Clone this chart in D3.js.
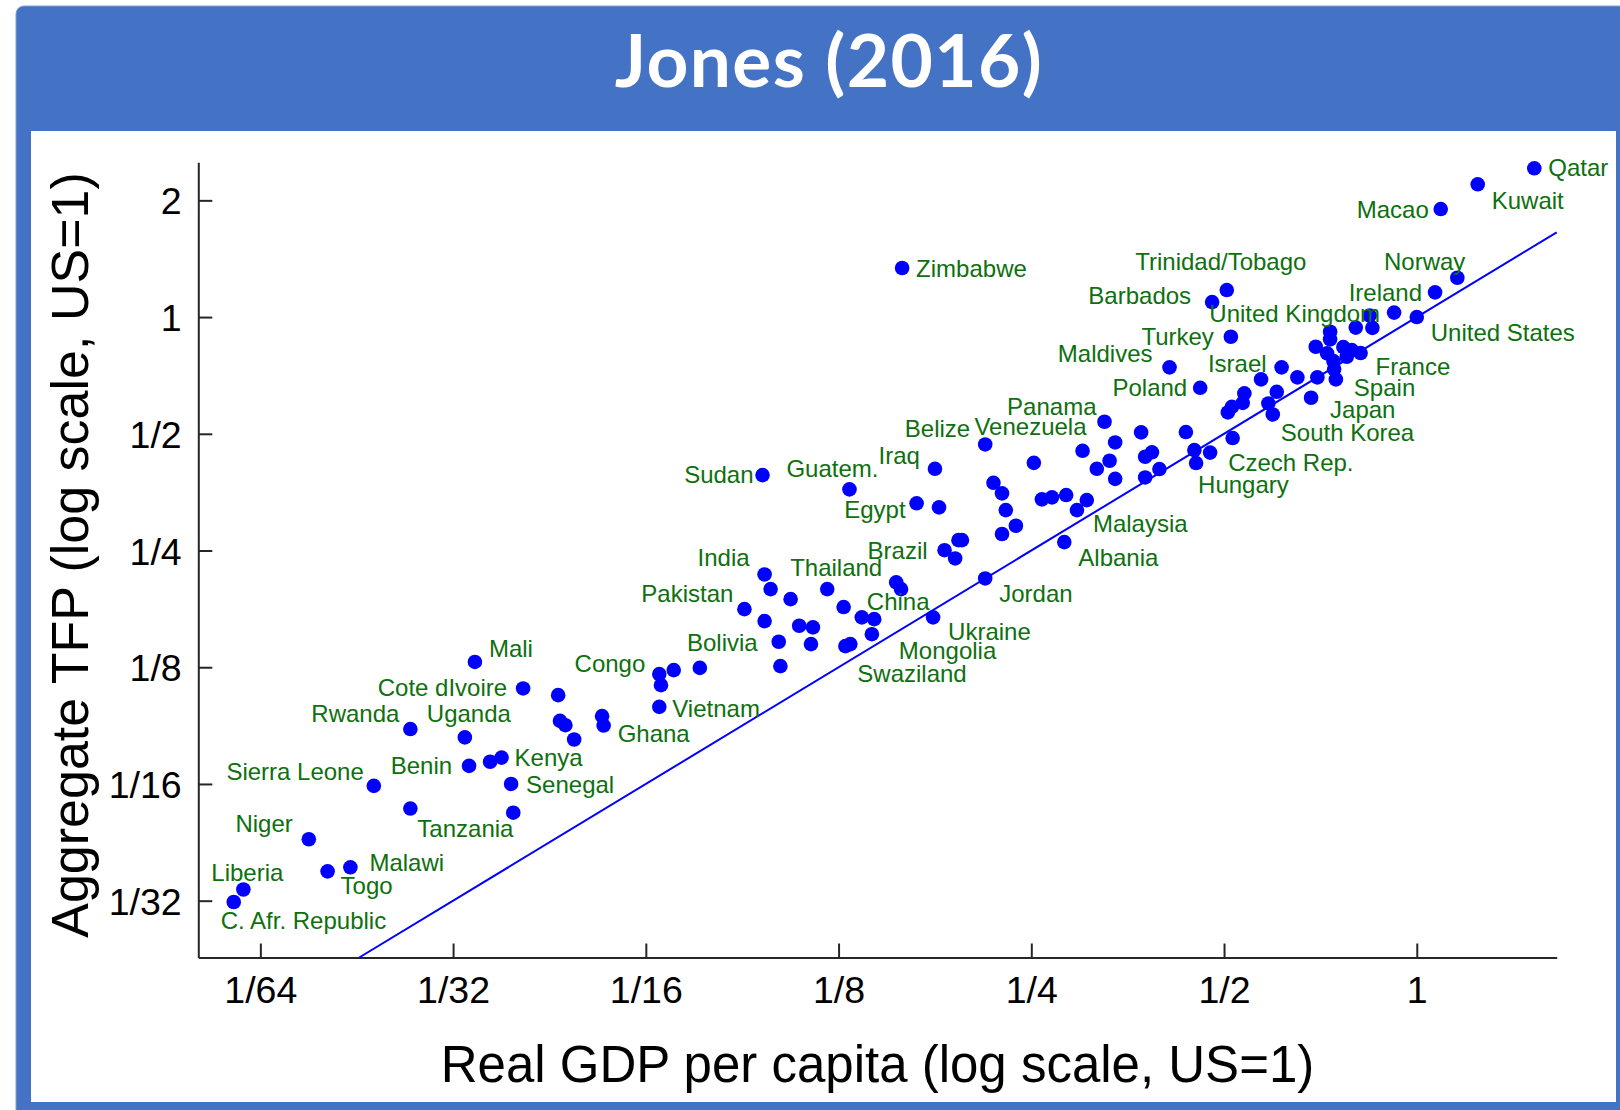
<!DOCTYPE html>
<html>
<head>
<meta charset="utf-8">
<script src="https://cdn.jsdelivr.net/npm/d3@7"></script>
<style>
  body { margin: 0; background: #fff; }
  svg { display: block; }
</style>
</head>
<body>
<svg id="chart" width="1620" height="1110"></svg>
<script>
// Aggregate TFP vs. real GDP per capita, both relative to the US (=1)
const countries = [
  "C. Afr. Republic", "Liberia", "Niger", "Togo", "Malawi", "Sierra Leone", "Rwanda", "Tanzania", "Uganda", "Benin",
  "Mali", "", "Kenya", "Senegal", "", "Cote dIvoire", "", "", "", "",
  "", "Ghana", "Congo", "", "Vietnam", "", "", "Pakistan", "Sudan", "India",
  "", "", "Bolivia", "", "", "", "", "", "", "",
  "", "Swaziland", "Guatem.", "China", "Mongolia", "", "Thailand", "", "Zimbabwe", "Egypt",
  "Ukraine", "Iraq", "", "Brazil", "", "", "", "Belize", "Jordan", "",
  "", "", "", "", "", "", "", "Albania", "", "Malaysia",
  "Venezuela", "", "Panama", "", "", "", "", "", "", "",
  "", "", "Maldives", "", "", "Hungary", "Poland", "Czech Rep.", "Barbados", "Trinidad/Tobago",
  "Turkey", "", "", "", "", "", "", "", "South Korea", "",
  "Israel", "", "Japan", "", "", "", "", "", "", "",
  "France", "", "", "", "Spain", "", "", "", "United Kingdom", "United States",
  "Ireland", "Macao", "Norway", "Kuwait", "Qatar"
];

const gdp = [
  0.0142, 0.0147, 0.0186, 0.0199, 0.0216, 0.0235, 0.0268, 0.0268, 0.0326, 0.0331,
  0.0338, 0.0357, 0.0372, 0.0385, 0.0388, 0.0402, 0.0456, 0.0459, 0.0468, 0.0483,
  0.0534, 0.0537, 0.0656, 0.0660, 0.0656, 0.0691, 0.0759, 0.0891, 0.0951, 0.0958,
  0.0958, 0.0979, 0.1008, 0.1014, 0.1052, 0.1085, 0.1132, 0.1140, 0.1200, 0.1273,
  0.1281, 0.1304, 0.1300, 0.1359, 0.1409, 0.1421, 0.1538, 0.1565, 0.1571, 0.1655,
  0.1756, 0.1768, 0.1794, 0.1830, 0.1901, 0.1924, 0.1948, 0.2118, 0.2118, 0.2182,
  0.2250, 0.2250, 0.2281, 0.2365, 0.2523, 0.2597, 0.2693, 0.2815, 0.2834, 0.2946,
  0.3006, 0.3052, 0.3253, 0.3164, 0.3313, 0.3380, 0.3380, 0.3711, 0.3765, 0.3858,
  0.3963, 0.3765, 0.4110, 0.4359, 0.4494, 0.4522, 0.4589, 0.4756, 0.4790, 0.5050,
  0.5124, 0.5069, 0.5143, 0.5157, 0.5348, 0.5379, 0.5712, 0.5864, 0.5958, 0.6044,
  0.6150, 0.6509, 0.6838, 0.6994, 0.6954, 0.7322, 0.7322, 0.7243, 0.7679, 0.7916,
  0.8171, 0.7773, 0.7410, 0.7429, 0.7475, 0.8030, 0.8525, 0.8439, 0.9217, 1.000,
  1.068, 1.090, 1.157, 1.245, 1.526
];

const tfp = [
  0.0310, 0.0334, 0.0450, 0.0372, 0.0381, 0.0618, 0.0866, 0.0540, 0.0824, 0.0696,
  0.1290, 0.0713, 0.0731, 0.0625, 0.0527, 0.1102, 0.1059, 0.0909, 0.0886, 0.0814,
  0.0935, 0.0884, 0.1200, 0.1124, 0.0988, 0.1229, 0.1245, 0.1765, 0.3912, 0.2169,
  0.1644, 0.1988, 0.1454, 0.1258, 0.1873, 0.1599, 0.1434, 0.1584, 0.1988, 0.1787,
  0.1417, 0.1434, 0.3595, 0.1681, 0.1521, 0.1663, 0.2069, 0.1988, 1.338, 0.3309,
  0.1681, 0.4061, 0.3229, 0.2505, 0.2385, 0.2659, 0.2659, 0.4694, 0.2118, 0.3737,
  0.3509, 0.2757, 0.3178, 0.2896, 0.4208, 0.3388, 0.3428, 0.2628, 0.3475, 0.3178,
  0.4519, 0.3373, 0.5370, 0.4061, 0.4260, 0.4750, 0.3826, 0.5042, 0.4362, 0.4479,
  0.4055, 0.3858, 0.7418, 0.5052, 0.4538, 0.4202, 0.6570, 0.4472, 1.093, 1.174,
  0.8896, 0.5676, 0.5868, 0.4875, 0.6008, 0.6356, 0.6907, 0.5987, 0.5609, 0.6416,
  0.7418, 0.6989, 0.6194, 0.6989, 0.8384, 0.9165, 0.8760, 0.8061, 0.8369, 0.8221,
  0.8075, 0.7900, 0.7701, 0.7344, 0.6907, 0.9395, 0.9379, 1.009, 1.027, 1.000,
  1.158, 1.899, 1.263, 2.200, 2.419
];

const xTickValues = [1/64, 1/32, 1/16, 1/8, 1/4, 1/2, 1];
const xTickLabels = ["1/64", "1/32", "1/16", "1/8", "1/4", "1/2", "1"];
const yTickValues = [1/32, 1/16, 1/8, 1/4, 1/2, 1, 2];
const yTickLabels = ["1/32", "1/16", "1/8", "1/4", "1/2", "1", "2"];
const gdpDomain = [0.0125, 1.654];
const tfpDomain = [0.0223, 2.507];

const titleText = "Jones (2016)";
const xTitleText = "Real GDP per capita (log scale, US=1)";
const yTitleText = "Aggregate TFP (log scale, US=1)";

// ---- layout ----
const plot = { left: 198.3, right: 1556.7, top: 162.3, bottom: 957.5 };
const frameBlue = "#4472c4";
const labelGreen = "#0e700e";
const sansFont = "'Liberation Sans', Arial, Helvetica, sans-serif";

// label placement next to each named dot: [anchor, dx, dy]
const labelPlacement = {
  "Qatar": ["start", 14, 8], "Kuwait": ["start", 14, 25], "Macao": ["end", -12, 9],
  "Norway": ["end", 8, -8], "Ireland": ["end", -13, 9], "United Kingdom": ["end", -14, 9],
  "United States": ["start", 14, 24], "Trinidad/Tobago": ["middle", -6, -20],
  "Barbados": ["end", -21, 2], "Turkey": ["end", -17, 8], "Maldives": ["end", -17, -5],
  "Israel": ["end", -15, 5], "Poland": ["end", -13, 8], "France": ["start", 15, 22],
  "Spain": ["start", 18, 17], "Japan": ["start", 19, 20], "South Korea": ["start", 8, 27],
  "Czech Rep.": ["start", 18, 18], "Hungary": ["start", 2, 30], "Zimbabwe": ["start", 14, 9],
  "Panama": ["end", -8, -7], "Belize": ["end", -15, -7], "Venezuela": ["end", 4, -16],
  "Iraq": ["end", -15, -5], "Sudan": ["end", -9, 8], "Guatem.": ["middle", -17, -12],
  "Egypt": ["end", -11, 15], "Brazil": ["end", -17, 9], "Malaysia": ["start", 16, 22],
  "Albania": ["start", 14, 24], "Jordan": ["start", 14, 24], "Ukraine": ["start", 15, 23],
  "Mongolia": ["start", 27, 25], "Swaziland": ["start", 7, 38], "China": ["start", 5, -7],
  "Thailand": ["end", -14, -6], "India": ["end", -15, -8], "Pakistan": ["end", -11, -7],
  "Bolivia": ["end", -21, 9], "Congo": ["end", -14, -2], "Vietnam": ["start", 13, 10],
  "Ghana": ["start", 14, 16], "Mali": ["start", 14, -5], "Cote dIvoire": ["end", -16, 8],
  "Rwanda": ["end", -11, -7], "Uganda": ["middle", 4, -15], "Benin": ["end", -17, 8],
  "Kenya": ["start", 13, 8], "Senegal": ["start", 15, 9], "Sierra Leone": ["end", -10, -6],
  "Tanzania": ["start", 7, 28], "Niger": ["end", -16, -7], "Malawi": ["start", 19, 4],
  "Togo": ["start", 13, 23], "Liberia": ["middle", 4, -8], "C. Afr. Republic": ["start", -13, 27]
};

const svg = d3.select("#chart");

// frame: blue header band and border around the white panel
svg.append("rect")
  .attr("x", 16).attr("y", 6).attr("width", 1620).attr("height", 1120)
  .attr("rx", 8).attr("fill", frameBlue)
  .attr("stroke", "#7f9fd8").attr("stroke-width", 1);
svg.append("rect")
  .attr("x", 31).attr("y", 131).attr("width", 1585).attr("height", 971)
  .attr("fill", "#fff");

svg.append("text")
  .attr("x", 829).attr("y", 87)
  .attr("text-anchor", "middle")
  .attr("font-family", "Lato, 'Open Sans', sans-serif")
  .attr("font-weight", 700)
  .attr("font-size", 73)
  .attr("letter-spacing", 1.4)
  .attr("fill", "#fff")
  .text(titleText);

const x = d3.scaleLog().base(2).domain(gdpDomain).range([plot.left, plot.right]);
const y = d3.scaleLog().base(2).domain(tfpDomain).range([plot.bottom, plot.top]);

// axes with inward ticks
const xAxis = svg.append("g")
  .attr("transform", `translate(0,${plot.bottom})`)
  .call(d3.axisBottom(x).tickValues(xTickValues)
    .tickFormat((d, i) => xTickLabels[i]).tickSizeInner(-14).tickSizeOuter(0));
const yAxis = svg.append("g")
  .attr("transform", `translate(${plot.left},0)`)
  .call(d3.axisLeft(y).tickValues(yTickValues)
    .tickFormat((d, i) => yTickLabels[i]).tickSizeInner(-14).tickSizeOuter(0));

[xAxis, yAxis].forEach(g => {
  g.select(".domain").attr("stroke", "#262626").attr("stroke-width", 2);
  g.selectAll(".tick line").attr("stroke", "#262626").attr("stroke-width", 2);
  g.selectAll(".tick text")
    .attr("fill", "#000")
    .attr("font-family", sansFont)
    .attr("font-size", 37.5);
});
xAxis.selectAll(".tick text").attr("y", 45).attr("dy", 0);
yAxis.selectAll(".tick text").attr("x", -16.6).attr("dy", "0.36em");

// axis titles
svg.append("text")
  .attr("x", (plot.left + plot.right) / 2).attr("y", 1082)
  .attr("text-anchor", "middle")
  .attr("font-family", sansFont).attr("font-size", 51).attr("fill", "#000")
  .text(xTitleText);
svg.append("text")
  .attr("transform", `translate(87.5,555) rotate(-90)`)
  .attr("text-anchor", "middle")
  .attr("font-family", sansFont).attr("font-size", 52).attr("fill", "#000")
  .text(yTitleText);

// 45-degree line: TFP equal to GDP per capita
const lineLo = Math.max(gdpDomain[0], tfpDomain[0]);
const lineHi = Math.min(gdpDomain[1], tfpDomain[1]);
svg.append("path")
  .datum([lineLo, lineHi])
  .attr("d", d3.line().x(d => x(d)).y(d => y(d)))
  .attr("stroke", "#0000ff").attr("stroke-width", 2).attr("fill", "none");

const rows = countries.map((name, i) => ({ name, gdp: gdp[i], tfp: tfp[i] }));

svg.append("g").selectAll("circle")
  .data(rows)
  .join("circle")
  .attr("cx", d => x(d.gdp))
  .attr("cy", d => y(d.tfp))
  .attr("r", 7.3)
  .attr("fill", "#0000ff");

svg.append("g").selectAll("text")
  .data(rows.filter(d => d.name !== ""))
  .join("text")
  .attr("x", d => x(d.gdp) + labelPlacement[d.name][1])
  .attr("y", d => y(d.tfp) + labelPlacement[d.name][2])
  .attr("text-anchor", d => labelPlacement[d.name][0])
  .attr("font-family", sansFont)
  .attr("font-size", 24)
  .attr("fill", labelGreen)
  .text(d => d.name);
</script>
</body>
</html>
